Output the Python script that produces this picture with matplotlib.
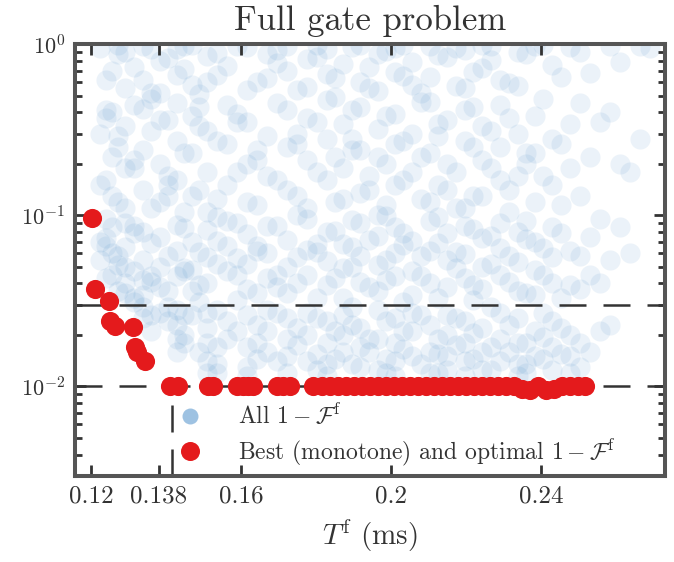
import matplotlib.pyplot as plt
from matplotlib.lines import Line2D
from matplotlib.ticker import NullLocator

plt.rcParams["font.family"] = "serif"
plt.rcParams["font.serif"] = ["cmr10"]
plt.rcParams["mathtext.fontset"] = "cm"
plt.rcParams["axes.unicode_minus"] = False
plt.rcParams["axes.formatter.use_mathtext"] = True

# all runs: gate time T^f (ms) per column and the infidelities reached there
cloud_t = [0.1224, 0.1256, 0.1291, 0.1339, 0.1384, 0.1429, 0.1469, 0.1509,
           0.1563, 0.1616, 0.1669, 0.1723, 0.1776, 0.1829, 0.1872, 0.1917,
           0.1965, 0.2011, 0.2056, 0.2104, 0.2149, 0.2197, 0.2243, 0.2291,
           0.2339, 0.2384, 0.2429, 0.2477, 0.2531, 0.2584, 0.2637, 0.2691]
cloud_f = [
    [0.95, 0.3, 0.15, 0.07, 0.055],
    [0.7, 0.4, 0.22, 0.13, 0.085, 0.06, 0.045],
    [0.9, 0.55, 0.33, 0.19, 0.11, 0.09, 0.065, 0.05, 0.04, 0.035],
    [0.97, 0.62, 0.42, 0.24, 0.14, 0.08, 0.055, 0.042, 0.034, 0.029, 0.025],
    [0.8, 0.52, 0.36, 0.2, 0.12, 0.075, 0.05, 0.038, 0.027],
    [0.93, 0.66, 0.45, 0.27, 0.16, 0.088, 0.062, 0.044, 0.028, 0.023, 0.019, 0.016],
    [0.99, 0.58, 0.38, 0.23, 0.13, 0.07, 0.048, 0.036, 0.026],
    [0.85, 0.6, 0.31, 0.18, 0.105, 0.082, 0.057, 0.04, 0.027, 0.022, 0.018, 0.014, 0.012],
    [0.74, 0.44, 0.26, 0.15, 0.092, 0.066, 0.047, 0.024, 0.019],
    [0.96, 0.54, 0.35, 0.2, 0.12, 0.078, 0.052, 0.037, 0.026, 0.017, 0.013, 0.0115],
    [0.88, 0.63, 0.29, 0.17, 0.086, 0.06, 0.043, 0.028, 0.021, 0.016],
    [0.98, 0.7, 0.41, 0.25, 0.14, 0.072, 0.05, 0.035, 0.025, 0.019, 0.015, 0.012],
    [0.82, 0.56, 0.37, 0.21, 0.11, 0.095, 0.063, 0.045, 0.027, 0.02, 0.014],
    [0.94, 0.67, 0.47, 0.28, 0.16, 0.08, 0.054, 0.039, 0.024, 0.018, 0.0135, 0.0115],
    [0.76, 0.34, 0.19, 0.125, 0.068, 0.049, 0.033, 0.026, 0.02, 0.016],
    [0.99, 0.6, 0.43, 0.24, 0.135, 0.09, 0.058, 0.041, 0.022, 0.017, 0.013],
    [0.87, 0.53, 0.32, 0.22, 0.1, 0.076, 0.051, 0.036, 0.028, 0.019, 0.0125],
    [0.95, 0.69, 0.39, 0.26, 0.15, 0.085, 0.06, 0.044, 0.025, 0.018, 0.014, 0.0115],
    [0.79, 0.58, 0.3, 0.18, 0.071, 0.047, 0.034, 0.027, 0.021, 0.015],
    [0.97, 0.64, 0.46, 0.23, 0.12, 0.093, 0.062, 0.04, 0.023, 0.016, 0.012],
    [0.84, 0.36, 0.2, 0.14, 0.079, 0.055, 0.038, 0.026, 0.02, 0.015, 0.0125],
    [0.92, 0.55, 0.41, 0.27, 0.11, 0.087, 0.059, 0.043, 0.024, 0.018, 0.014, 0.0115],
    [0.99, 0.72, 0.33, 0.21, 0.13, 0.074, 0.05, 0.037, 0.022, 0.016, 0.0125],
    [0.62, 0.44, 0.25, 0.16, 0.09, 0.064, 0.045, 0.027, 0.019, 0.014],
    [0.9, 0.57, 0.3, 0.17, 0.08, 0.053, 0.036, 0.025, 0.018, 0.0135, 0.0115],
    [0.97, 0.38, 0.23, 0.12, 0.07, 0.048, 0.034, 0.021, 0.015],
    [0.75, 0.28, 0.15, 0.085, 0.057, 0.04, 0.024, 0.017, 0.0125],
    [0.96, 0.34, 0.19, 0.062, 0.039, 0.02, 0.015, 0.012],
    [0.68, 0.22, 0.075, 0.045, 0.016],
    [0.98, 0.4, 0.055, 0.023],
    [0.18, 0.06],
    [0.95],
]

# second batch of runs, at the gate times in between
cloud2_t = [0.1240, 0.1273, 0.1315, 0.1361, 0.1406, 0.1449, 0.1489, 0.1536,
            0.1590, 0.1642, 0.1696, 0.1750, 0.1802, 0.1850, 0.1895, 0.1941,
            0.1988, 0.2033, 0.2080, 0.2126, 0.2173, 0.2220, 0.2267, 0.2315,
            0.2361, 0.2406, 0.2453, 0.2504, 0.2557, 0.2610, 0.2664]
cloud2_f = [
    [0.62, 0.41, 0.37, 0.16, 0.095, 0.074, 0.066, 0.043],
    [0.99, 0.87, 0.29, 0.25, 0.12, 0.058, 0.051, 0.036],
    [0.73, 0.44, 0.21, 0.19, 0.086, 0.079, 0.047, 0.033, 0.031],
    [0.94, 0.52, 0.48, 0.31, 0.11, 0.069, 0.044, 0.041, 0.026, 0.021],
    [0.83, 0.36, 0.17, 0.15, 0.13, 0.058, 0.036, 0.029, 0.024],
    [0.97, 0.71, 0.23, 0.105, 0.084, 0.049, 0.047, 0.026, 0.02, 0.018],
    [0.51, 0.43, 0.33, 0.14, 0.061, 0.039, 0.031, 0.016],
    [0.89, 0.66, 0.27, 0.125, 0.098, 0.071, 0.052, 0.028, 0.017, 0.0135, 0.012],
    [0.98, 0.39, 0.35, 0.18, 0.09, 0.056, 0.045, 0.032, 0.021],
    [0.6, 0.24, 0.21, 0.115, 0.066, 0.062, 0.035, 0.023, 0.018, 0.0145],
    [0.92, 0.77, 0.45, 0.16, 0.087, 0.045, 0.038, 0.027, 0.014],
    [0.54, 0.3, 0.26, 0.13, 0.1, 0.057, 0.04, 0.022, 0.0175],
    [0.99, 0.84, 0.35, 0.18, 0.068, 0.061, 0.033, 0.025, 0.0155, 0.0125],
    [0.63, 0.49, 0.22, 0.12, 0.081, 0.043, 0.021, 0.0145],
    [0.96, 0.41, 0.28, 0.24, 0.094, 0.065, 0.05, 0.029, 0.023, 0.0135],
    [0.73, 0.55, 0.17, 0.14, 0.072, 0.038, 0.019, 0.016],
    [0.91, 0.38, 0.2, 0.115, 0.099, 0.055, 0.042, 0.024, 0.0145, 0.012],
    [0.99, 0.65, 0.27, 0.16, 0.079, 0.067, 0.031, 0.021, 0.0165],
    [0.52, 0.46, 0.22, 0.125, 0.058, 0.044, 0.026, 0.0135],
    [0.86, 0.34, 0.29, 0.15, 0.097, 0.069, 0.033, 0.019, 0.0155, 0.012],
    [0.95, 0.57, 0.18, 0.11, 0.061, 0.049, 0.025, 0.0175],
    [0.69, 0.43, 0.25, 0.13, 0.083, 0.039, 0.032, 0.0205, 0.0145],
    [0.97, 0.81, 0.31, 0.19, 0.076, 0.052, 0.029, 0.017, 0.0125],
    [0.59, 0.37, 0.14, 0.105, 0.058, 0.041, 0.023, 0.016],
    [0.88, 0.23, 0.2, 0.093, 0.073, 0.035, 0.018, 0.0135, 0.012],
    [0.99, 0.48, 0.17, 0.064, 0.045, 0.027, 0.0195, 0.0145],
    [0.64, 0.26, 0.115, 0.079, 0.033, 0.022, 0.0155],
    [0.9, 0.45, 0.13, 0.058, 0.037, 0.018, 0.013],
    [0.35, 0.095, 0.04, 0.021],
    [0.78, 0.2, 0.085],
    [0.97, 0.28],
]

# best monotone runs below the 0.138 ms gate time
best_t = [0.1203, 0.1210, 0.1249, 0.1251, 0.1264, 0.1313, 0.1316, 0.1322, 0.1344]
best_f = [0.096, 0.037, 0.0315, 0.0242, 0.0227, 0.0221, 0.0169, 0.0158, 0.0141]

# optimal runs reaching the 1e-2 target
opt_t = [0.1411, 0.1432, 0.1512, 0.1525, 0.1589, 0.1605, 0.1619, 0.1632,
         0.1696, 0.1712, 0.1731, 0.1792, 0.1816, 0.1837, 0.1859, 0.1880,
         0.1901, 0.1923, 0.1944, 0.1965, 0.1987, 0.2008, 0.2029, 0.2051,
         0.2072, 0.2093, 0.2115, 0.2136, 0.2157, 0.2179, 0.2200, 0.2221,
         0.2243, 0.2264, 0.2285, 0.2307, 0.2328, 0.2349, 0.2371, 0.2392,
         0.2413, 0.2435, 0.2456, 0.2477, 0.2499, 0.2517]
opt_f = [0.01, 0.01, 0.01, 0.01, 0.01, 0.01, 0.01, 0.01,
         0.01, 0.01, 0.01, 0.01, 0.01, 0.01, 0.01, 0.01,
         0.01, 0.01, 0.01, 0.01, 0.01, 0.01, 0.01, 0.01,
         0.01, 0.01, 0.01, 0.01, 0.01, 0.01, 0.01, 0.01,
         0.01, 0.01, 0.01, 0.01, 0.01, 0.0097, 0.0096, 0.01,
         0.0096, 0.0097, 0.01, 0.01, 0.01, 0.01]

xtick_vals = [0.12, 0.138, 0.16, 0.2, 0.24]
xtick_text = ["0.12", "0.138", "0.16", "0.2", "0.24"]
t_cut = 0.1415

all_t = [t for t, col in zip(cloud_t + cloud2_t, cloud_f + cloud2_f) for _ in col]
all_f = [f for col in cloud_f + cloud2_f for f in col]

blue = "#3d85c6"
red = "#e41a1c"
ink = "#333333"

fig = plt.figure(figsize=(6.74, 5.62), dpi=100)
ax = fig.add_axes([75 / 674, 1 - 476 / 562, 590 / 674, 432 / 562])

ax.scatter(all_t, all_f, s=210, color=blue, alpha=0.1, linewidths=0, zorder=1)

dash = dict(color=ink, lw=1.8, dashes=(10.8, 6.8), zorder=2)
ax.axhline(0.03, **dash)
ax.axhline(0.01, **dash)
ax.plot([t_cut, t_cut], [0.003, 0.01], **dash)

ax.scatter(best_t + opt_t, best_f + opt_f, s=190, color=red, linewidths=0, zorder=3)

ax.set_yscale("log")
ax.set_xlim(0.1157, 0.2731)
ax.set_ylim(0.003, 1)
ax.set_xticks(xtick_vals)
ax.set_xticklabels(xtick_text)
ax.xaxis.set_minor_locator(NullLocator())

ax.tick_params(which="both", direction="in", top=True, right=True,
               color=ink, width=2, labelsize=18, labelcolor=ink, pad=7)
ax.tick_params(axis="y", labelsize=16)
ax.tick_params(which="major", length=8)
ax.tick_params(which="minor", length=5)
for sp in ax.spines.values():
    sp.set_linewidth(2.9)
    sp.set_color("#555555")

ax.set_title("Full gate problem", fontsize=25, color=ink, pad=10)
ax.set_xlabel(r"$T^{\mathrm{f}}$ (ms)", fontsize=21, color=ink, labelpad=7)

handles = [
    Line2D([], [], ls="none", marker="o", ms=11.5, mfc="#9ec2e2", mec="none"),
    Line2D([], [], ls="none", marker="o", ms=13.7, mfc=red, mec="none"),
]
labels = [r"All $1-\mathcal{F}^{\mathrm{f}}$",
          r"Best (monotone) and optimal $1-\mathcal{F}^{\mathrm{f}}$"]
leg = ax.legend(handles, labels, loc="lower left", bbox_to_anchor=(0.119, -0.03),
                frameon=False, fontsize=17, handletextpad=1.05, labelspacing=0.3)
for txt in leg.get_texts():
    txt.set_color(ink)

fig.savefig("out.png", dpi=100)
